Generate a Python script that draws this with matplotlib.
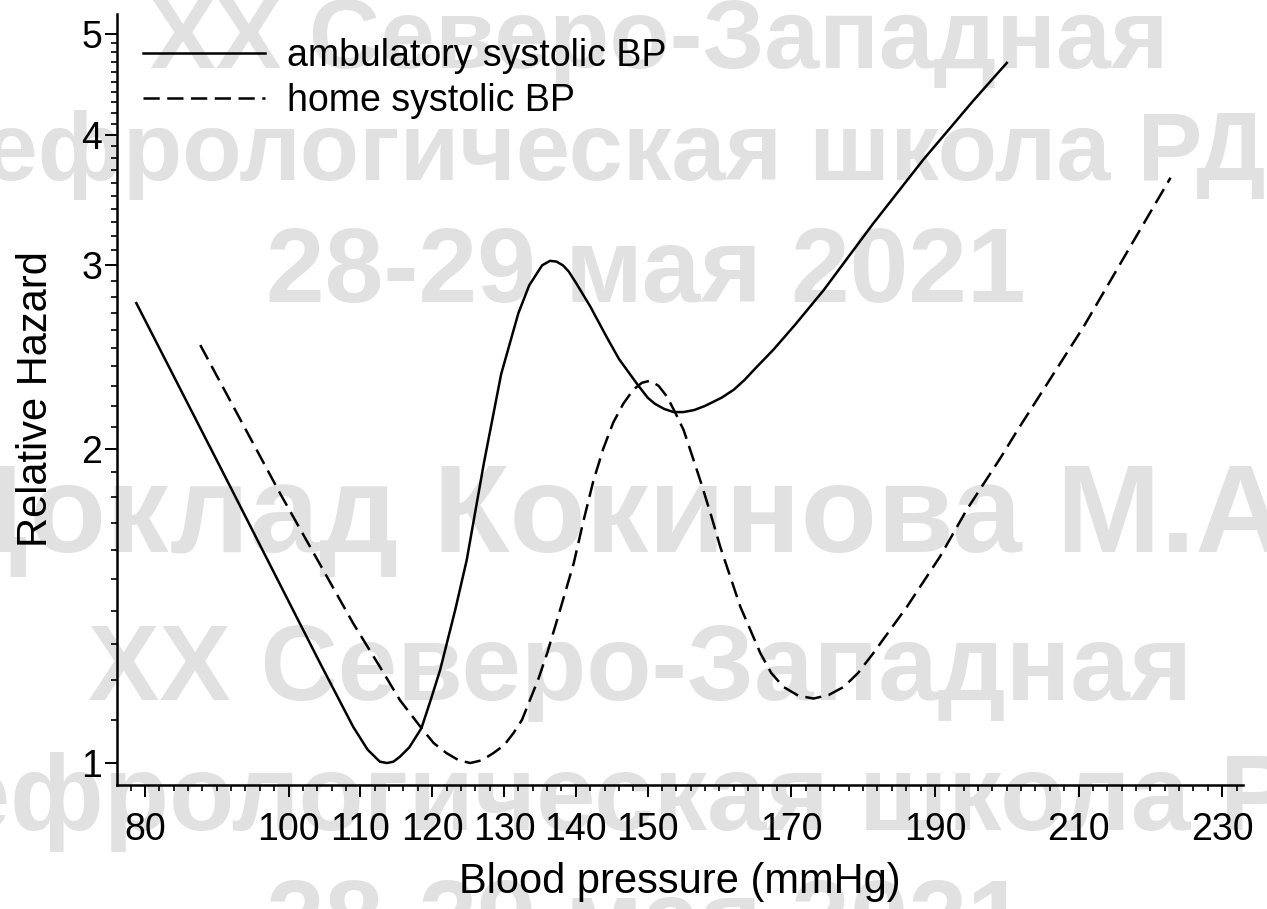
import numpy as np
import matplotlib
matplotlib.use("Agg")
import matplotlib.pyplot as plt
from matplotlib.ticker import FixedLocator, NullFormatter

# relative hazard vs systolic BP
amb_bp = [78.8, 91.4, 104.4, 109.0, 111.0, 112.7, 113.7, 114.6, 115.5, 116.8,
          118.5, 119.8, 121.1, 123.2, 124.8, 127.2, 129.6, 132.0, 133.5, 135.3,
          136.4, 137.3, 138.2, 139.0, 140.1, 142.0, 144.3, 146.0, 148.5, 150.0,
          151.0, 152.3, 153.6, 155.0, 156.5, 158.0, 160.3, 162.0, 163.5, 165.0,
          167.5, 170.5, 174.5, 181.4, 188.4, 195.4, 200.0]
amb_hr = [2.76, 1.868, 1.246, 1.083, 1.03, 1.003, 1.0, 1.003, 1.014, 1.035,
          1.08, 1.15, 1.228, 1.402, 1.565, 1.94, 2.36, 2.7, 2.87, 3.0,
          3.03, 3.025, 3.0, 2.96, 2.88, 2.74, 2.56, 2.44, 2.31, 2.24,
          2.21, 2.185, 2.17, 2.17, 2.18, 2.2, 2.24, 2.28, 2.33, 2.39,
          2.49, 2.63, 2.84, 3.29, 3.79, 4.32, 4.69]

home_bp = [87.7, 98.8, 109.0, 112.7, 115.5, 118.5, 120.2, 122.0, 123.7, 125.3,
           126.9, 128.5, 130.0, 131.3, 132.5, 133.6, 134.8, 136.0, 137.8, 139.7,
           141.0, 142.4, 143.8, 145.2, 146.6, 148.0, 149.2, 150.3, 151.5, 152.7,
           153.8, 155.0, 156.2, 157.5, 158.8, 160.1, 162.9, 165.7, 167.2, 168.9,
           171.0, 173.1, 175.2, 177.3, 179.3, 181.4, 183.7, 186.1, 190.7, 194.4,
           199.1, 201.4, 210.7, 217.7, 222.8]
home_hr = [2.516, 1.814, 1.361, 1.237, 1.149, 1.08, 1.045, 1.022, 1.006, 1.0,
           1.006, 1.022, 1.04, 1.068, 1.1, 1.149, 1.205, 1.274, 1.402, 1.554,
           1.70, 1.86, 2.0, 2.12, 2.21, 2.28, 2.315, 2.325, 2.3, 2.245,
           2.17, 2.086, 1.97, 1.85, 1.73, 1.612, 1.412, 1.274, 1.22, 1.183,
           1.16, 1.153, 1.162, 1.183, 1.22, 1.274, 1.34, 1.412, 1.577, 1.748,
           1.96, 2.08, 2.62, 3.17, 3.64]

x_ticks = [80, 100, 110, 120, 130, 140, 150, 170, 190, 210, 230]
y_ticks = [1, 2, 3, 4, 5]

plt.rcParams['font.family'] = ['Liberation Sans', 'DejaVu Sans']

fig = plt.figure(figsize=(12.67, 9.09), dpi=100)
ax = fig.add_axes([0.0923, 0.1364, 0.8888, 0.8482])
ax.patch.set_alpha(0)
ax.set_zorder(2)

# conference watermark behind everything
wm = '#e1e1e1'
wm_rows = [
    ("XX Северо-Западная", 0.52, 68, 71),
    ("нефрологическая школа РДО", 0.50, 180, 70),
    ("28-29 мая 2021", 0.51, 302, 76),
    ("Доклад Кокинова М.А.", 0.497, 552, 90),
    ("XX Северо-Западная", 0.505, 700, 77),
    ("нефрологическая школа РДО", 0.525, 830, 77),
    ("28-29 мая 2021", 0.51, 954, 76),
]
for txt, xc, base_px, size in wm_rows:
    fig.text(xc, 1 - base_px / 909, txt, ha='center', va='baseline',
             fontsize=size, fontweight='bold', color=wm, zorder=-5)

ax.plot(amb_bp, amb_hr, color='black', lw=1.8, label='ambulatory systolic BP')
ax.plot(home_bp, home_hr, color='black', lw=1.8, linestyle=(0, (6.5, 3.0)),
        label='home systolic BP')

ax.set_yscale('log')
ax.set_xlim(76.1, 232.9)
ax.set_ylim(0.9526, 5.225)

ax.xaxis.set_major_locator(FixedLocator(x_ticks))
ax.xaxis.set_minor_locator(FixedLocator(np.arange(78, 233, 2)))
ax.set_xticklabels([str(v) for v in x_ticks])
ax.yaxis.set_major_locator(FixedLocator(y_ticks))
minor_y = [round(v, 1) for v in np.arange(1.1, 5.0, 0.1) if abs(v - round(v)) > 1e-6]
ax.yaxis.set_minor_locator(FixedLocator(minor_y))
ax.yaxis.set_minor_formatter(NullFormatter())
ax.set_yticklabels([str(v) for v in y_ticks])

for side in ['top', 'right']:
    ax.spines[side].set_visible(False)
for side in ['left', 'bottom']:
    ax.spines[side].set_linewidth(1.8)

ax.tick_params(axis='both', which='major', direction='out', length=8.5,
               width=1.4, labelsize=27, colors='black')
ax.tick_params(axis='both', which='minor', direction='out', length=4.3, width=1.2)
ax.tick_params(axis='x', which='major', pad=11)
ax.tick_params(axis='y', which='major', pad=2)

ax.set_xlabel('Blood pressure (mmHg)', fontsize=30, labelpad=10)
ax.set_ylabel('Relative Hazard', fontsize=30, labelpad=18)

ax.legend(loc='upper left', bbox_to_anchor=(0.023, 0.969), frameon=False,
          fontsize=27, handlelength=3.25, handletextpad=0.59,
          labelspacing=0.25, borderpad=0, borderaxespad=0)

fig.savefig('out.png', dpi=100)
